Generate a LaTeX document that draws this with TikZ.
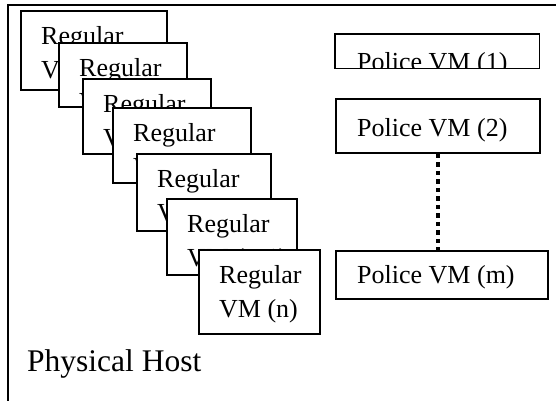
\documentclass[tikz,border=0pt]{standalone}
\usepackage{fontspec}
\setmainfont{Liberation Serif}
\usetikzlibrary{calc}
\begin{document}
\begin{tikzpicture}[x=1pt,y=-1pt,
  boxline/.style={draw=black,line width=1.8pt,fill=white},
  vmtext/.style={anchor=base west,inner sep=0pt,font=\fontsize{26}{34}\selectfont},
  hosttext/.style={anchor=base west,inner sep=0pt,font=\fontsize{31.5}{36}\selectfont},
  dotline/.style={line width=4.5pt,dash pattern=on 4.5pt off 4pt}]
\useasboundingbox (0,0) rectangle (556,400);
% physical host frame
\coordinate (fbl) at (8,404);
\coordinate (ftl) at (8,5);
\coordinate (ftr) at (560,5);
\draw[line width=2pt] (fbl) -- (ftl) -- (ftr);
% regular VMs
\foreach \i/\l/\t/\r/\b/\lab in {1/20/10/166/89/VM (1),2/58/42/186/106/VM (2),3/82/78/210/153/VM (3),4/112/107/250/182/VM (4),5/136/153/270/230/VM (5),6/166/198/296/274/VM (n-1),7/198/249/319/333/VM (n)}{
  \node[boxline,anchor=north west,minimum width={\r-\l},minimum height={\b-\t},inner sep=0pt] (r\i) at (\l,\t) {};
  \node[vmtext] (r\i a) at ($(r\i.north west)+(21,34.5)$) {Regular};
  \node[vmtext] (r\i b) at ($(r\i.north west)+(21,68.5)$) {\lab};
}
% police VMs
\node[anchor=north west,minimum width=204,minimum height=34,inner sep=0pt] (p1) at (335,34) {};
\begin{scope}
  \clip (p1.north west) rectangle (p1.south east);
  \node[vmtext] (p1t) at ($(p1.north west)+(22,36)$) {Police VM (1)};
\end{scope}
\draw[line width=1.8pt] (p1.north west) rectangle (p1.south east);
\node[boxline,anchor=north west,minimum width=204,minimum height=54,inner sep=0pt] (p2) at (335,98) {};
\node[vmtext] (p2t) at ($(p2.north west)+(22,38)$) {Police VM (2)};
\node[boxline,anchor=north west,minimum width=212,minimum height=48,inner sep=0pt] (pm) at (335,250) {};
\node[vmtext] (pmt) at ($(pm.north west)+(22,33)$) {Police VM (m)};
\draw[dotline] (p2.south) -- (p2.south |- pm.north);
% host label
\node[hosttext] (host) at (27,371) {Physical Host};
\end{tikzpicture}
\end{document}
